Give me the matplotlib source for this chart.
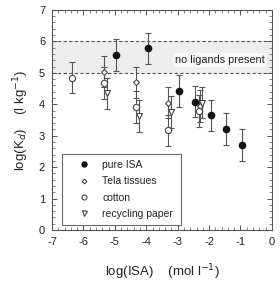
import matplotlib
matplotlib.use("Agg")
import matplotlib.pyplot as plt
from matplotlib.ticker import MultipleLocator

plt.rcParams['font.family'] = ['Liberation Sans', 'DejaVu Sans']
plt.rcParams['axes.unicode_minus'] = False

isa_x = [-4.95, -3.95, -2.95, -2.45, -1.95, -1.45, -0.95]
isa_y = [5.57, 5.78, 4.42, 4.08, 3.65, 3.22, 2.70]
isa_err = [0.5, 0.5, 0.5, 0.5, 0.5, 0.5, 0.5]

tela_x = [-5.35, -4.32, -3.32, -2.30]
tela_y = [5.04, 4.70, 4.05, 3.95]
tela_err = [0.5, 0.5, 0.5, 0.5]

cotton_x = [-6.35, -5.35, -4.32, -3.32, -2.32]
cotton_y = [4.85, 4.67, 3.92, 3.17, 3.78]
cotton_err = [0.5, 0.5, 0.5, 0.5, 0.5]

paper_x = [-5.25, -4.22, -3.22, -2.22]
paper_y = [4.35, 3.62, 3.75, 4.05]
paper_err = [0.5, 0.5, 0.5, 0.5]

band = [5.0, 6.0]

fig = plt.figure(figsize=(2.80, 2.83), dpi=100)
ax = fig.add_axes([0.186, 0.187, 0.785, 0.778])

ax.axhspan(band[0], band[1], color='#ededed', zorder=0, lw=0)
for b in band:
    ax.axhline(b, color='#555555', ls=(0, (3, 2)), lw=0.8, zorder=1)
ax.text(-1.65, 5.42, 'no ligands present', ha='center', va='center', fontsize=7.8,
        color='#222222', bbox=dict(facecolor='#f8f8f8', edgecolor='none', pad=1.5), zorder=2)

ekw = dict(ecolor='#555555', elinewidth=0.8, capsize=2, capthick=0.8, ls='none', zorder=3)
h1 = ax.errorbar(isa_x, isa_y, yerr=isa_err, fmt='o', ms=4.5, mfc='#111111', mec='#111111',
                 label='pure ISA', **ekw)
h2 = ax.errorbar(tela_x, tela_y, yerr=tela_err, fmt='D', ms=3, mfc='white', mec='#444444',
                 mew=0.8, label='Tela tissues', **ekw)
h3 = ax.errorbar(cotton_x, cotton_y, yerr=cotton_err, fmt='o', ms=4.5, mfc='white', mec='#444444',
                 mew=0.8, label='cotton', **ekw)
h4 = ax.errorbar(paper_x, paper_y, yerr=paper_err, fmt='v', ms=4.5, mfc='white', mec='#444444',
                 mew=0.8, label='recycling paper', **ekw)

ax.set_xlim(-7, 0)
ax.set_ylim(0, 7)
ax.xaxis.set_major_locator(MultipleLocator(1))
ax.yaxis.set_major_locator(MultipleLocator(1))
ax.xaxis.set_minor_locator(MultipleLocator(0.2))
ax.yaxis.set_minor_locator(MultipleLocator(0.2))
ax.tick_params(which='both', direction='in', top=True, right=True, color='#555555')
ax.tick_params(which='major', length=3.5, width=0.7, labelsize=8, pad=5, labelcolor='#222222')
ax.tick_params(which='minor', length=2, width=0.5)
for s in ax.spines.values():
    s.set_color('#555555')
    s.set_linewidth(0.8)

ax.set_xlabel('log(ISA)    (mol l$^{-1}$)', fontsize=9.5, color='#222222', labelpad=11)
ax.set_ylabel('log(K$_d$)    (l kg$^{-1}$)', fontsize=9.5, color='#222222', labelpad=6)

handles = [h[0] for h in (h1, h2, h3, h4)]
labels = ['pure ISA', 'Tela tissues', 'cotton', 'recycling paper']
leg = ax.legend(handles, labels, loc='lower left', bbox_to_anchor=(0.045, 0.023, 0.54, 0.31),
                mode='expand', borderaxespad=0, fontsize=7.5, frameon=True, markerscale=0.8,
                fancybox=False, edgecolor='#444444', handletextpad=0.25, labelspacing=0.6,
                borderpad=0.6, handlelength=3.0)
leg.get_frame().set_linewidth(0.8)
for t in leg.get_texts():
    t.set_color('#222222')

fig.savefig('out.png', dpi=100)
